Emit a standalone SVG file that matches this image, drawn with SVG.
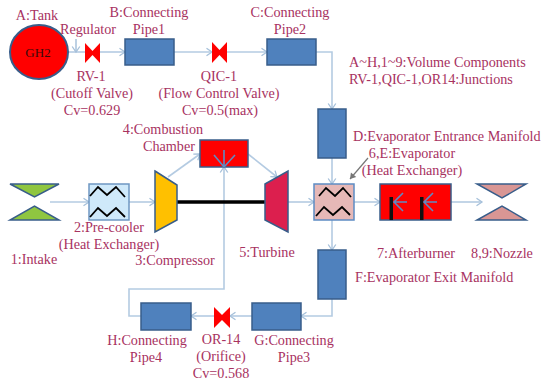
<svg xmlns="http://www.w3.org/2000/svg" width="541" height="383" viewBox="0 0 541 383">
<style>
text{font-family:"Liberation Serif","Times New Roman",serif;font-size:14.2px;fill:#a8325f;text-anchor:middle}
.s{text-anchor:start}
.pipe{fill:#4f81bd;stroke:#385d8a;stroke-width:1.5}
.valve{fill:#ff0000}
.c{fill:none;stroke:#b4cbe2;stroke-width:1.6;marker-end:url(#a)}
.n{fill:none;stroke:#b4cbe2;stroke-width:1.6}
.zig{fill:none;stroke:#000;stroke-width:1.8}
.inj{fill:none;stroke:#5d8cc4;stroke-width:1.6}
.o{stroke:#385d8a;stroke-width:1.5}
</style>
<defs>
<marker id="a" markerUnits="userSpaceOnUse" markerWidth="10" markerHeight="10" refX="7" refY="5" orient="auto"><path d="M1.5 1.2L7 5L1.5 8.8" fill="none" stroke="#a6c0da" stroke-width="1.3"/></marker>
<marker id="g" markerUnits="userSpaceOnUse" markerWidth="10" markerHeight="10" refX="7" refY="5" orient="auto"><path d="M1.5 1.5L7 5L1.5 8.5Z" fill="#777"/></marker>
</defs>
<rect width="541" height="383" fill="#fff"/>
<g id="connectors">
<path class="n" d="M68 52H85"/>
<path class="c" d="M100 52H125"/>
<path class="c" d="M174 52H212"/>
<path class="c" d="M227 52H267"/>
<path class="c" d="M316 52H332V109"/>
<path class="c" d="M332 158V184"/>
<path class="c" d="M332 220V250"/>
<path class="c" d="M332 299V316H301"/>
<path class="c" d="M252 316H230"/>
<path class="c" d="M214 316H191"/>
<path class="c" d="M141 316H129V289H224V167"/>
<path class="c" d="M50 202H89"/>
<path class="c" d="M129 202H155"/>
<path class="c" d="M168 177L200 154"/>
<path class="c" d="M248 154L277 177"/>
<path class="c" d="M288 202H314"/>
<path class="c" d="M354 202H380"/>
<path class="c" d="M451 202H482"/>
<path d="M76 39V52" fill="none" stroke="#7da3c9" stroke-width="1" marker-end="url(#a)"/>
<path d="M368 158L350 179" fill="none" stroke="#777" stroke-width="1.2" marker-end="url(#g)"/>
<path d="M177 202H265" fill="none" stroke="#000" stroke-width="3.5"/>
</g>
<g id="tank"><ellipse cx="39" cy="52" rx="29" ry="27" fill="#ff0000" stroke="#385d8a" stroke-width="2"/><text x="38" y="57" style="font-size:13px;fill:#3a0a0a">GH2</text><text x="37" y="20">A:Tank</text><text x="88" y="34">Regulator</text></g>
<g id="rv1"><path class="valve" d="M85 43L92.500 51L100 43V63L92.500 55L85 63Z"/><text x="91" y="81">RV-1</text><text x="92" y="98">(Cutoff Valve)</text><text x="92" y="115">Cv=0.629</text></g>
<g id="pipe1"><rect class="pipe" x="125" y="39" width="49" height="26"/><text x="149" y="17">B:Connecting</text><text x="149" y="34">Pipe1</text></g>
<g id="qic1"><path class="valve" d="M212 42L219.500 50L227 42V63L219.500 55L212 63Z"/><text x="219" y="81">QIC-1</text><text x="219" y="98">(Flow Control Valve)</text><text x="220" y="115">Cv=0.5(max)</text></g>
<g id="pipe2"><rect class="pipe" x="267" y="39" width="49" height="26"/><text x="290" y="17">C:Connecting</text><text x="290" y="34">Pipe2</text></g>
<g id="legend"><text class="s" x="349" y="67">A~H,1~9:Volume Components</text><text class="s" x="349" y="84">RV-1,QIC-1,OR14:Junctions</text></g>
<g id="manifoldD"><rect class="pipe" x="318" y="109" width="28" height="49"/><text class="s" x="353" y="141">D:Evaporator Entrance Manifold</text></g>
<g id="intake"><path class="o" fill="#8fc640" d="M10 184H59L34.500 197Z"/><path class="o" fill="#8fc640" d="M10 220H59L34.500 206Z"/><text x="34" y="264">1:Intake</text></g>
<g id="precooler"><rect x="89" y="184" width="40" height="36" fill="#cfe9fa" stroke="#6f97c2" stroke-width="1.5"/><path class="zig" d="M90 196L98 187L107 195L116 187L125 197M90 217L98 208L107 216L116 208L125 217"/><text x="109" y="232">2:Pre-cooler</text><text x="109" y="249">(Heat Exchanger)</text></g>
<g id="compressor"><path class="o" fill="#ffc000" d="M155 171L177 185V220L155 232Z"/><text x="175" y="265">3:Compressor</text></g>
<g id="combustor"><rect class="o" x="200" y="140" width="48" height="27" fill="#ff0000"/><path class="inj" d="M224 167L214 155M224 167V150M224 167L235 155"/><text x="163" y="134">4:Combustion</text><text x="169" y="151">Chamber</text></g>
<g id="turbine"><path class="o" fill="#dc1f4e" d="M265 184L288 171V232L265 220Z"/><text x="267" y="257">5:Turbine</text></g>
<g id="evaporator"><rect x="314" y="184" width="40" height="36" fill="#e6b8b7" stroke="#5d8cc4" stroke-width="1.5"/><path class="zig" d="M319 196L326 188L335 196L343 188L351 197M316 216L324 207L333 215L342 207L350 215"/><text x="412" y="158">6,E:Evaporator</text><text x="412" y="175">(Heat Exchanger)</text></g>
<g id="afterburner"><rect class="o" x="380" y="184" width="71" height="36" fill="#ff0000"/><rect x="389.500" y="197" width="3.500" height="23" fill="#111"/><rect x="420" y="197" width="3.500" height="23" fill="#111"/><path class="inj" d="M407 202H394M403 193L394 202L403 211M437 202H424M433 193L424 202L433 211"/><text x="416" y="258">7:Afterburner</text></g>
<g id="nozzle"><path class="o" fill="#d99694" d="M477 184H526L502 198Z"/><path class="o" fill="#d99694" d="M477 220H526L502 206Z"/><text x="502" y="258">8,9:Nozzle</text></g>
<g id="manifoldF"><rect class="pipe" x="318" y="250" width="28" height="49"/><text class="s" x="355" y="282">F:Evaporator Exit Manifold</text></g>
<g id="pipe3"><rect class="pipe" x="252" y="303" width="49" height="27"/><text x="294" y="345">G:Connecting</text><text x="294" y="362">Pipe3</text></g>
<g id="or14"><path class="valve" d="M214 307L222 315L230 307V328L222 320L214 328Z"/><text x="221" y="344">OR-14</text><text x="221" y="361">(Orifice)</text><text x="221" y="378">Cv=0.568</text></g>
<g id="pipe4"><rect class="pipe" x="141" y="303" width="50" height="27"/><text x="147" y="345">H:Connecting</text><text x="146" y="362">Pipe4</text></g>
</svg>
